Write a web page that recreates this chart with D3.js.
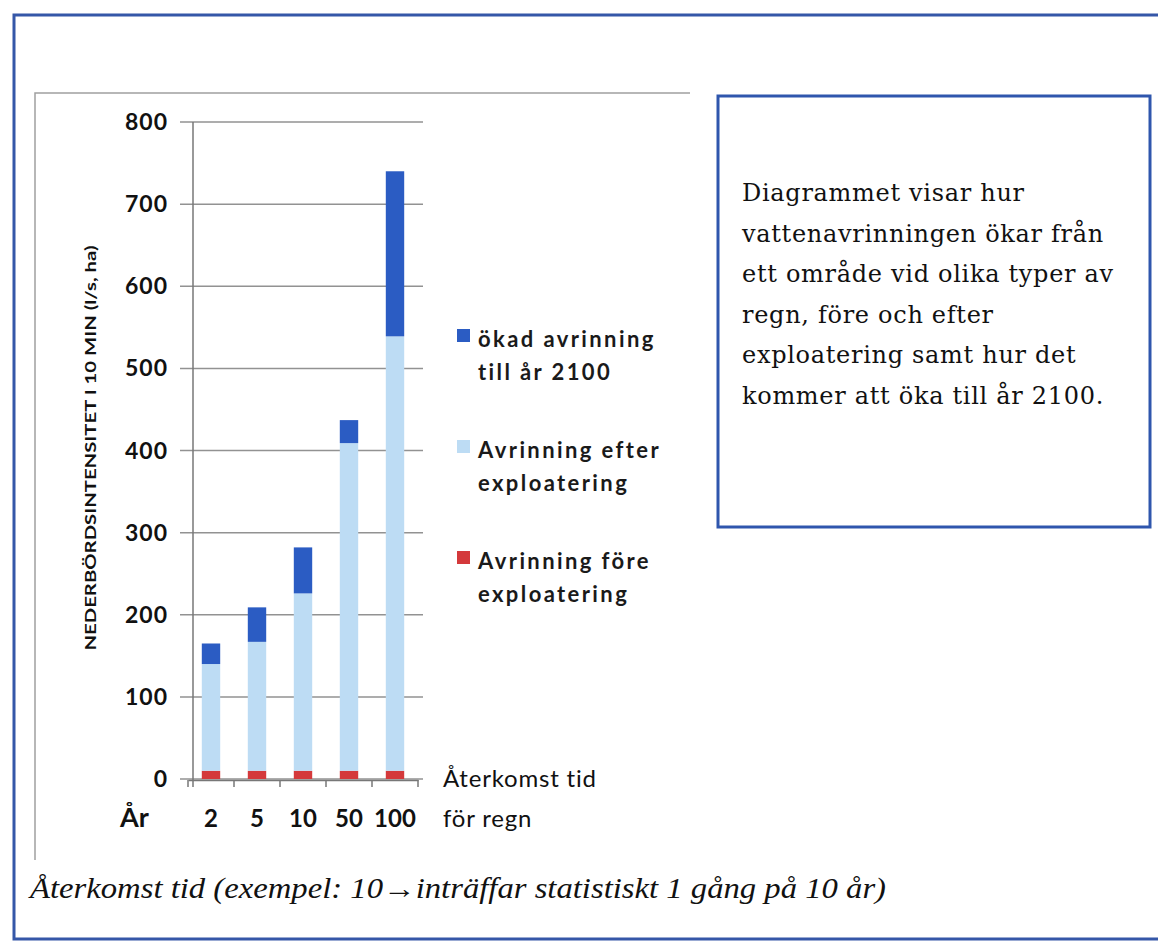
<!DOCTYPE html>
<html>
<head>
<meta charset="utf-8">
<script src="https://cdn.jsdelivr.net/npm/d3@7"></script>
<style>
  body { margin: 0; background: #fff; }
  svg { display: block; }
</style>
</head>
<body>
<div id="chart"></div>
<script>
// return periods (år)
const categories = ['2', '5', '10', '50', '100'];
// l/s, ha — stacked from bottom
const beforeValues = [10, 10, 10, 10, 10];        // Avrinning före exploatering
const afterValues = [130, 157, 216, 399, 529];    // Avrinning efter exploatering
const increaseValues = [25, 42, 56, 28, 201];     // ökad avrinning till år 2100
const yTicks = [0, 100, 200, 300, 400, 500, 600, 700, 800];

const seriesNames = ['before', 'after', 'increase'];
const colors = { before: '#d4393b', after: '#bddcf4', increase: '#2b5cc3' };
const legendItems = [
  { key: 'increase', lines: ['ökad avrinning', 'till år 2100'] },
  { key: 'after', lines: ['Avrinning efter', 'exploatering'] },
  { key: 'before', lines: ['Avrinning före', 'exploatering'] }
];
const infoLines = [
  'Diagrammet visar hur',
  'vattenavrinningen ökar från',
  'ett område vid olika typer av',
  'regn, före och efter',
  'exploatering samt hur det',
  'kommer att öka till år 2100.'
];

const rows = categories.map((c, i) => ({
  cat: c,
  before: beforeValues[i],
  after: afterValues[i],
  increase: increaseValues[i]
}));

const W = 1158, H = 943;
const svg = d3.select('#chart').append('svg')
  .attr('width', W)
  .attr('height', H);

svg.append('rect').attr('width', W).attr('height', H).attr('fill', '#fff');

// outer blue frame
svg.append('path')
  .attr('d', `M1160,15 L14,15 L14,939 L1160,939`)
  .attr('fill', 'none')
  .attr('stroke', '#3557a8')
  .attr('stroke-width', 3);

// chart area frame (grey, only top and left visible)
svg.append('path')
  .attr('d', 'M690,93 L35,93 L35,860')
  .attr('fill', 'none')
  .attr('stroke', '#a0a0a0')
  .attr('stroke-width', 1.5);

const plot = { left: 188, right: 418, top: 122, bottom: 779 };

const x = d3.scaleBand()
  .domain(categories)
  .range([plot.left, plot.right])
  .paddingInner(0.6)
  .paddingOuter(0.3);

const y = d3.scaleLinear()
  .domain([0, 800])
  .range([plot.bottom, plot.top]);

const g = svg.append('g');

// gridlines
g.append('g')
  .selectAll('line')
  .data(yTicks)
  .join('line')
  .attr('x1', plot.left - 8)
  .attr('x2', plot.right + 5)
  .attr('y1', d => y(d))
  .attr('y2', d => y(d))
  .attr('stroke', '#929292')
  .attr('stroke-width', 1.5);

// y axis line
g.append('line')
  .attr('x1', plot.left + 5).attr('x2', plot.left + 5)
  .attr('y1', plot.top).attr('y2', plot.bottom + 8)
  .attr('stroke', '#777')
  .attr('stroke-width', 1.5);

// y tick labels
g.append('g')
  .selectAll('text')
  .data(yTicks)
  .join('text')
  .attr('x', 168)
  .attr('y', d => y(d))
  .attr('dy', '0.35em')
  .attr('text-anchor', 'end')
  .style('font', 'bold 23px Lato, sans-serif')
  .style('letter-spacing', '1px')
  .attr('fill', '#111')
  .text(d => d);

// x axis with tick marks between categories
const xAxis = d3.axisBottom(x).tickSize(0).tickFormat('');
g.append('g')
  .attr('transform', `translate(0,${plot.bottom + 1})`)
  .call(xAxis)
  .call(a => a.select('.domain').attr('stroke', '#777').attr('stroke-width', 1.5))
  .call(a => a.selectAll('.tick').remove());

const step = x.step();
const boundaries = d3.range(categories.length + 1)
  .map(i => plot.left + x.paddingOuter() * step - x.paddingInner() * step / 2 + i * step);
g.append('g')
  .selectAll('line')
  .data(boundaries)
  .join('line')
  .attr('x1', d => d).attr('x2', d => d)
  .attr('y1', plot.bottom + 1).attr('y2', plot.bottom + 8)
  .attr('stroke', '#777')
  .attr('stroke-width', 1.5);

// stacked bars
const stack = d3.stack().keys(seriesNames);
const layers = stack(rows);

g.append('g')
  .selectAll('g')
  .data(layers)
  .join('g')
  .attr('fill', d => colors[d.key])
  .selectAll('rect')
  .data(d => d)
  .join('rect')
  .attr('x', d => x(d.data.cat))
  .attr('width', x.bandwidth())
  .attr('y', d => y(d[1]))
  .attr('height', d => y(d[0]) - y(d[1]));

// category labels
g.append('g')
  .selectAll('text')
  .data(categories)
  .join('text')
  .attr('x', d => x(d) + x.bandwidth() / 2)
  .attr('y', 827)
  .attr('text-anchor', 'middle')
  .style('font', 'bold 24px Lato, sans-serif')
  .attr('fill', '#111')
  .text(d => d);

svg.append('text')
  .attr('x', 120).attr('y', 827)
  .style('font', 'bold 27px Lato, sans-serif')
  .attr('fill', '#111')
  .text('År');

svg.append('text')
  .attr('x', 443).attr('y', 787)
  .style('font', '24px Lato, sans-serif')
  .style('letter-spacing', '0.8px')
  .attr('fill', '#111')
  .text('Återkomst tid');
svg.append('text')
  .attr('x', 443).attr('y', 827)
  .style('font', '24px Lato, sans-serif')
  .style('letter-spacing', '0.8px')
  .attr('fill', '#111')
  .text('för regn');

// y axis title
svg.append('text')
  .attr('transform', 'translate(96,448) rotate(-90)')
  .attr('text-anchor', 'middle')
  .style('font', 'bold 15px Lato, sans-serif')
  .attr('textLength', 405)
  .attr('lengthAdjust', 'spacingAndGlyphs')
  .attr('fill', '#111')
  .text('NEDERBÖRDSINTENSITET I 10 MIN (l/s, ha)');

// legend
const legend = svg.append('g');
const legendY = [340, 451, 562];
legendItems.forEach((item, i) => {
  const lg = legend.append('g').attr('transform', `translate(457,${legendY[i]})`);
  lg.append('rect')
    .attr('x', 0).attr('y', -11)
    .attr('width', 13).attr('height', 13)
    .attr('fill', colors[item.key]);
  item.lines.forEach((t, j) => {
    lg.append('text')
      .attr('x', 21)
      .attr('y', 7 + j * 33)
      .style('font', 'bold 22px Lato, sans-serif')
      .style('letter-spacing', '2.4px')
      .attr('fill', '#1a1a1a')
      .text(t);
  });
});

// info box
svg.append('rect')
  .attr('x', 718).attr('y', 96)
  .attr('width', 432).attr('height', 431)
  .attr('fill', 'none')
  .attr('stroke', '#2f56ad')
  .attr('stroke-width', 3);

svg.append('g')
  .selectAll('text')
  .data(infoLines)
  .join('text')
  .attr('x', 742)
  .attr('y', (d, i) => 201 + i * 40.6)
  .style('font', '24px "DejaVu Serif", serif')
  .style('letter-spacing', '0.7px')
  .attr('fill', '#111')
  .text(d => d);

// caption
svg.append('text')
  .attr('x', 30).attr('y', 898)
  .style('font', 'italic 29px "Liberation Serif", serif')
  .attr('textLength', 856)
  .attr('lengthAdjust', 'spacingAndGlyphs')
  .attr('fill', '#111')
  .text('Återkomst tid (exempel: 10→inträffar statistiskt 1 gång på 10 år)');
</script>
</body>
</html>
